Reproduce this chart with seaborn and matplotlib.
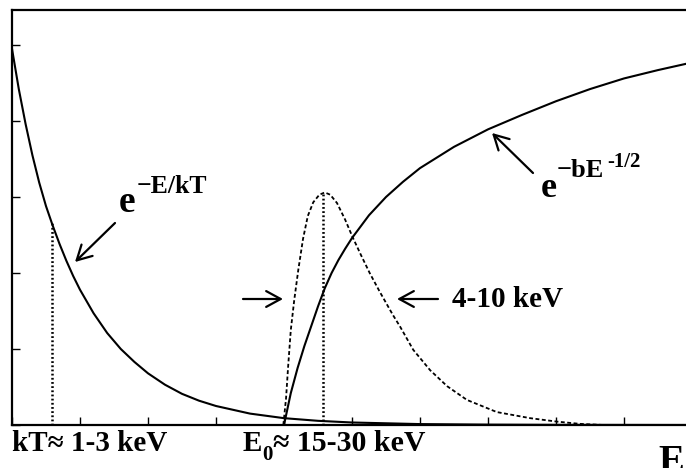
import matplotlib
matplotlib.use("Agg")
import matplotlib.pyplot as plt
import seaborn as sns

# ---- data (x: energy units 0-10, y: arbitrary) ----
boltz_x = [0, 0.1, 0.2, 0.3, 0.4, 0.5, 0.6, 0.7, 0.8, 0.9, 1.0, 1.2, 1.4, 1.6, 1.8,
           2.0, 2.25, 2.5, 2.75, 3.0, 3.5, 4.0, 4.5, 5.0, 6.0, 7.0, 8.0, 9.0, 10.0]
boltz_y = [4.95, 4.42, 3.96, 3.55, 3.19, 2.88, 2.62, 2.38, 2.16, 1.96, 1.78, 1.47, 1.21, 1.00, 0.83,
           0.68, 0.53, 0.41, 0.32, 0.25, 0.15, 0.09, 0.055, 0.033, 0.012, 0.005, 0.002, 0.001, 0.0]

tunnel_x = [4.0, 4.1, 4.2, 4.3, 4.4, 4.5, 4.6, 4.7, 4.8, 4.9, 5.0, 5.25, 5.5, 5.75,
            6.0, 6.5, 7.0, 7.5, 8.0, 8.5, 9.0, 9.5, 10.0]
tunnel_y = [0.0, 0.42, 0.75, 1.04, 1.30, 1.56, 1.80, 2.00, 2.17, 2.32, 2.46, 2.76, 3.00, 3.20,
            3.38, 3.66, 3.89, 4.08, 4.26, 4.42, 4.56, 4.67, 4.77]

gamow_x = [3.99, 4.03, 4.06, 4.10, 4.15, 4.21, 4.28, 4.35, 4.43, 4.52, 4.60, 4.68, 4.78, 4.90,
           5.01, 5.13, 5.26, 5.41, 5.60, 5.71, 5.90, 6.15, 6.40, 6.69, 7.13, 7.62, 8.01, 8.35, 8.70]
gamow_y = [0.0, 0.35, 0.76, 1.25, 1.64, 2.04, 2.45, 2.75, 2.93, 3.03, 3.06, 3.03, 2.92, 2.70,
           2.47, 2.24, 2.00, 1.75, 1.45, 1.29, 0.99, 0.72, 0.51, 0.33, 0.17, 0.09, 0.045, 0.015, 0.0]

kT_x, kT_top = 0.59, 2.67
E0_x, E0_top = 4.58, 3.06

x_ticks = list(range(0, 11))
y_ticks = list(range(0, 6))

W, H = 686, 468

sns.set_theme(style="white")
plt.rcParams["font.family"] = ["Liberation Serif", "DejaVu Serif"]
plt.rcParams["lines.scale_dashes"] = False

fig = plt.figure(figsize=(W / 100, H / 100), dpi=100)
ax = fig.add_axes([12 / W, 43 / H, 680 / W, 415 / H])

sns.lineplot(x=boltz_x, y=boltz_y, ax=ax, color="black", lw=1.5, estimator=None, sort=False)
sns.lineplot(x=tunnel_x, y=tunnel_y, ax=ax, color="black", lw=1.5, estimator=None, sort=False)
sns.lineplot(x=gamow_x, y=gamow_y, ax=ax, color="black", lw=1.3, estimator=None, sort=False,
             linestyle=(0, (2.8, 1.8)))
ax.plot([kT_x, kT_x], [0, kT_top], color="black", lw=1.8, linestyle=(0, (1.3, 1.7)))
ax.plot([E0_x, E0_x], [0, E0_top], color="black", lw=1.8, linestyle=(0, (1.3, 1.7)))

ax.set_xlim(0, 10)
ax.set_ylim(0, 415 / 76)
ax.set_xticks(x_ticks)
ax.set_yticks(y_ticks)
ax.tick_params(direction="in", length=6, width=1, color="black",
               labelbottom=False, labelleft=False, bottom=True, left=True)
for s in ax.spines.values():
    s.set_color("black")
    s.set_linewidth(1.6)
ax.set_xlabel("")
ax.set_ylabel("")


def ftext(px, py, s, size, **kw):
    fig.text(px / W, 1 - py / H, s, fontsize=size, fontweight="bold",
             ha="left", va="baseline", color="black", **kw)


def farrow(tail, head):
    ax.annotate("", xy=(head[0], H - head[1]), xytext=(tail[0], H - tail[1]),
                xycoords="figure pixels", textcoords="figure pixels",
                arrowprops=dict(arrowstyle="->,head_length=0.55,head_width=0.3",
                                lw=1.6, color="black", mutation_scale=19,
                                shrinkA=0, shrinkB=0))


# labels under the axis
ftext(12, 451, "kT\u2248 1-3 keV", 21)
ftext(243, 451, "E", 21)
ftext(262, 460, "0", 15)
ftext(273, 451, "\u2248 15-30 keV", 21.5)
ftext(658, 472, "E", 28)

# e^{-E/kT}
ftext(119, 212, "e", 27)
ftext(137, 193, "\u2212E/kT", 18.5)
farrow((115, 223), (75, 262))

# e^{-bE^{-1/2}}
ftext(541, 197, "e", 26)
ftext(557, 177, "\u2212bE", 19)
ftext(607, 167, "-1/2", 15)
farrow((533, 173), (492, 133))

# width arrows
farrow((243, 299), (283, 299))
farrow((438, 299), (397, 299))
ftext(452, 307, "4-10 keV", 21)

fig.savefig("out.png", dpi=100)
